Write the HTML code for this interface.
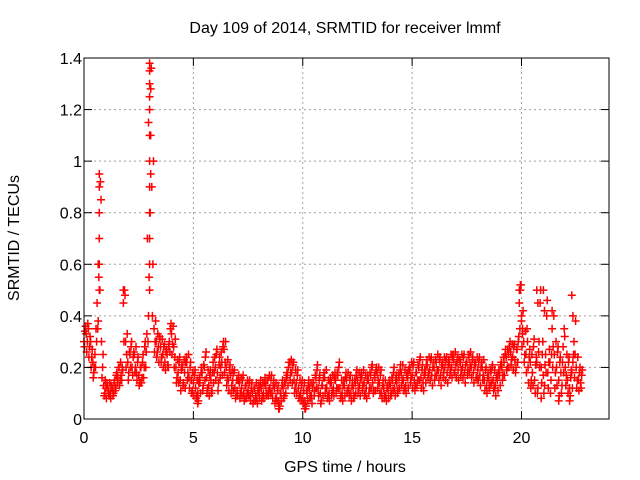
<!DOCTYPE html>
<html><head><meta charset="utf-8"><style>
body{margin:0;background:#fff}
svg{display:block;font-family:"Liberation Sans",sans-serif}
</style></head><body>
<svg id="chart" width="640" height="480" viewBox="0 0 640 480">
<rect width="640" height="480" fill="#fff"/>
<g id="grid"></g>
<g id="marks"></g>
<rect x="84" y="58" width="525" height="361" fill="none" stroke="#000" stroke-width="1"/>
<g id="axes"></g>
<text x="345" y="33" font-size="16" text-anchor="middle">Day 109 of 2014, SRMTID for receiver lmmf</text>
<text x="345" y="472" font-size="16" text-anchor="middle">GPS time / hours</text>
<text transform="translate(19,238) rotate(-90)" font-size="16" text-anchor="middle">SRMTID / TECUs</text>
</svg>
<script>
const xTicks=[0,5,10,15,20];
const yTicks=[0,0.2,0.4,0.6,0.8,1,1.2,1.4];
const yTickLabels=["0","0.2","0.4","0.6","0.8","1","1.2","1.4"];
const tStart=0, tStep=0.1;
const mainValues=[0.30,0.33,0.35,0.30,0.22,0.25,0.45,0.80,0.30,0.13,0.12,0.11,0.10,0.12,0.15,0.18,0.20,0.17,0.45,0.30,
0.22,0.25,0.20,0.25,0.18,0.17,0.20,0.25,0.30,0.70,1.30,0.90,0.35,0.30,0.28,0.28,0.25,0.22,0.25,0.30,
0.33,0.28,0.20,0.18,0.15,0.20,0.18,0.22,0.16,0.15,0.14,0.12,0.10,0.14,0.18,0.20,0.16,0.13,0.15,0.22,
0.20,0.18,0.24,0.22,0.27,0.20,0.15,0.17,0.15,0.12,0.11,0.14,0.12,0.10,0.13,0.11,0.09,0.10,0.12,0.08,
0.10,0.12,0.10,0.13,0.15,0.12,0.10,0.12,0.08,0.07,0.10,0.12,0.14,0.17,0.22,0.18,0.15,0.14,0.12,0.10,
0.08,0.07,0.10,0.12,0.09,0.14,0.16,0.12,0.10,0.13,0.16,0.12,0.10,0.14,0.12,0.15,0.17,0.12,0.10,0.13,
0.15,0.12,0.10,0.12,0.14,0.15,0.13,0.16,0.14,0.12,0.15,0.17,0.14,0.16,0.18,0.14,0.10,0.12,0.09,0.11,
0.13,0.15,0.12,0.14,0.16,0.18,0.15,0.13,0.16,0.19,0.17,0.15,0.18,0.20,0.16,0.14,0.18,0.21,0.19,0.17,
0.20,0.22,0.19,0.17,0.21,0.20,0.18,0.22,0.20,0.23,0.21,0.19,0.22,0.20,0.18,0.22,0.24,0.20,0.18,0.21,
0.19,0.17,0.20,0.15,0.13,0.16,0.18,0.15,0.13,0.15,0.17,0.20,0.22,0.24,0.25,0.26,0.24,0.23,0.27,0.45,
0.38,0.30,0.25,0.20,0.22,0.18,0.15,0.22,0.30,0.20,0.17,0.25,0.18,0.22,0.35,0.25,0.20,0.15,0.18,0.28,
0.20,0.15,0.12,0.18,0.30,0.20,0.15,0.14];
const altValues=[0.34,0.30,0.28,0.24,0.18,0.35,0.60,0.92,0.20,0.10,0.14,0.09,0.13,0.10,0.12,0.16,0.15,0.20,0.50,0.25,
0.18,0.28,0.24,0.20,0.22,0.14,0.16,0.20,0.26,0.40,1.10,0.60,0.30,0.26,0.32,0.24,0.28,0.26,0.20,0.35,
0.29,0.24,0.16,0.22,0.19,0.14,0.22,0.18,0.20,0.11,0.17,0.09,0.14,0.18,0.13,0.24,0.12,0.17,0.11,0.18,
0.25,0.14,0.20,0.28,0.22,0.16,0.19,0.13,0.18,0.09,0.15,0.10,0.15,0.08,0.10,0.14,0.12,0.07,0.09,0.11,
0.13,0.09,0.14,0.10,0.11,0.15,0.13,0.08,0.11,0.05,0.13,0.09,0.16,0.20,0.18,0.21,0.12,0.17,0.09,0.13,
0.11,0.05,0.13,0.09,0.12,0.11,0.19,0.15,0.07,0.16,0.12,0.09,0.14,0.11,0.16,0.12,0.20,0.09,0.13,0.16,
0.11,0.15,0.13,0.09,0.17,0.12,0.16,0.13,0.10,0.15,0.12,0.20,0.11,0.19,0.15,0.17,0.13,0.09,0.12,0.14,
0.10,0.18,0.15,0.11,0.19,0.15,0.12,0.17,0.19,0.16,0.21,0.13,0.15,0.23,0.19,0.17,0.21,0.18,0.23,0.20,
0.17,0.19,0.23,0.20,0.18,0.23,0.21,0.19,0.24,0.18,0.22,0.23,0.19,0.24,0.21,0.19,0.21,0.23,0.21,0.16,
0.22,0.20,0.17,0.19,0.16,0.13,0.20,0.12,0.16,0.18,0.21,0.17,0.25,0.20,0.28,0.23,0.28,0.20,0.30,0.50,
0.33,0.25,0.35,0.24,0.15,0.28,0.21,0.12,0.45,0.25,0.13,0.40,0.22,0.15,0.28,0.18,0.26,0.22,0.13,0.35,
0.17,0.22,0.16,0.22,0.25,0.15,0.18,0.17];
const lowValues=[0.28,0.26,0.24,0.20,0.16,0.20,0.35,0.50,0.16,0.09,0.08,0.10,0.08,0.09,0.11,0.14,0.13,0.15,0.30,0.20,
0.15,0.20,0.17,0.18,0.15,0.13,0.14,0.16,0.20,0.30,0.80,0.40,0.26,0.24,0.22,0.22,0.20,0.19,0.21,0.26,
0.25,0.20,0.14,0.14,0.11,0.13,0.12,0.15,0.12,0.10,0.09,0.08,0.07,0.10,0.11,0.15,0.10,0.09,0.10,0.14,
0.15,0.11,0.16,0.17,0.18,0.13,0.11,0.10,0.11,0.08,0.09,0.08,0.09,0.07,0.08,0.09,0.07,0.06,0.07,0.06,
0.08,0.07,0.08,0.09,0.09,0.10,0.08,0.06,0.07,0.04,0.07,0.08,0.10,0.13,0.15,0.14,0.10,0.10,0.08,0.07,
0.06,0.04,0.07,0.08,0.06,0.09,0.12,0.09,0.06,0.09,0.10,0.08,0.07,0.09,0.09,0.10,0.12,0.08,0.07,0.09,
0.10,0.09,0.07,0.08,0.10,0.10,0.09,0.11,0.09,0.08,0.10,0.12,0.10,0.11,0.12,0.10,0.08,0.08,0.07,0.08,
0.09,0.11,0.09,0.10,0.12,0.13,0.11,0.10,0.12,0.14,0.12,0.11,0.13,0.15,0.12,0.11,0.14,0.16,0.15,0.13,
0.15,0.17,0.15,0.13,0.16,0.15,0.14,0.17,0.16,0.18,0.16,0.15,0.17,0.16,0.14,0.17,0.18,0.16,0.14,0.16,
0.15,0.13,0.15,0.11,0.10,0.12,0.14,0.11,0.09,0.11,0.13,0.15,0.17,0.19,0.20,0.21,0.19,0.18,0.22,0.35,
0.28,0.22,0.18,0.14,0.12,0.13,0.10,0.10,0.20,0.14,0.10,0.18,0.12,0.10,0.20,0.12,0.13,0.09,0.10,0.18,
0.13,0.10,0.09,0.12,0.16,0.12,0.11,0.12];
const highValues=[0.36,0.37,0.32,0.27,0.20,0.30,0.55,0.85,0.25,0.15,0.13,0.14,0.12,0.14,0.17,0.20,0.22,0.19,0.48,0.33,
0.26,0.30,0.26,0.28,0.24,0.20,0.22,0.28,0.33,0.55,1.36,1.00,0.38,0.33,0.31,0.31,0.29,0.27,0.28,0.37,
0.36,0.31,0.23,0.24,0.21,0.23,0.24,0.25,0.22,0.18,0.19,0.15,0.16,0.20,0.21,0.26,0.19,0.19,0.18,0.24,
0.27,0.21,0.26,0.30,0.30,0.23,0.21,0.19,0.19,0.15,0.17,0.16,0.17,0.13,0.15,0.15,0.14,0.12,0.14,0.13,
0.15,0.14,0.16,0.15,0.17,0.17,0.15,0.14,0.13,0.10,0.15,0.14,0.18,0.22,0.23,0.22,0.19,0.19,0.15,0.15,
0.14,0.11,0.15,0.14,0.14,0.17,0.21,0.17,0.13,0.18,0.19,0.15,0.16,0.17,0.18,0.18,0.22,0.15,0.15,0.18,
0.18,0.17,0.15,0.15,0.19,0.18,0.18,0.19,0.17,0.17,0.18,0.21,0.17,0.20,0.20,0.19,0.15,0.15,0.13,0.15,
0.16,0.20,0.17,0.17,0.21,0.21,0.19,0.18,0.20,0.22,0.22,0.18,0.21,0.24,0.21,0.19,0.23,0.24,0.24,0.22,
0.23,0.25,0.24,0.22,0.24,0.24,0.23,0.25,0.25,0.26,0.24,0.23,0.25,0.25,0.22,0.25,0.26,0.24,0.22,0.24,
0.24,0.22,0.23,0.20,0.18,0.19,0.21,0.19,0.17,0.19,0.22,0.24,0.27,0.27,0.30,0.29,0.29,0.27,0.32,0.52,
0.42,0.34,0.30,0.27,0.25,0.31,0.24,0.26,0.50,0.30,0.21,0.46,0.27,0.25,0.40,0.30,0.28,0.24,0.22,0.32,
0.25,0.24,0.19,0.25,0.38,0.24,0.20,0.19];
const extraTimes=[3.0,3.0,3.0,3.0,3.0,3.0,3.0,3.0,3.0,3.0,3.0,3.0,0.7,0.7,0.7,0.7,0.7,0.7,1.8,1.8,19.9,19.95,20.0,20.05,20.7,20.75,21.0,21.05,21.4,22.3,22.35,5.2,8.9,10.1,20.9,21.7,22.2,2.95,3.05,3.05,0.65];
const extraValues=[0.5,0.6,0.7,0.8,0.9,1.0,1.1,1.2,1.25,1.3,1.35,1.38,0.5,0.6,0.7,0.8,0.9,0.95,0.45,0.5,0.5,0.52,0.4,0.35,0.5,0.45,0.5,0.42,0.42,0.48,0.4,0.06,0.04,0.04,0.08,0.07,0.07,1.15,1.28,0.95,0.38];

const X0=84,X1=609,Y0=419,Y1=58,XMAX=24,YMAX=1.4;
const xs=v=>X0+(X1-X0)*v/XMAX;
const ys=v=>Y0-(Y0-Y1)*v/YMAX;
const NS="http://www.w3.org/2000/svg";
const grid=document.getElementById('grid'),axes=document.getElementById('axes'),marks=document.getElementById('marks');
function mk(tag,attrs,parent){const e=document.createElementNS(NS,tag);for(const k in attrs)e.setAttribute(k,attrs[k]);parent.appendChild(e);return e;}
yTicks.forEach((v,i)=>{const y=ys(v);
 if(v>0&&v<YMAX){const g=mk('line',{x1:X0,x2:X1,y1:y,y2:y,stroke:'#a0a0a0','stroke-dasharray':'2,3'},grid);
 
 }
 mk('line',{x1:X0,x2:X0+8,y1:y,y2:y,stroke:'#000'},axes);
 mk('line',{x1:X1,x2:X1-8,y1:y,y2:y,stroke:'#000'},axes);
 const t=mk('text',{x:X0-2,y:y+6,'font-size':16,'text-anchor':'end'},axes);t.textContent=yTickLabels[i];
 
 
});
xTicks.forEach(v=>{const x=xs(v);
 if(v>0){const g=mk('line',{x1:x,x2:x,y1:Y0,y2:Y1,stroke:'#a0a0a0','stroke-dasharray':'2,3'},grid);
 
 }
 mk('line',{x1:x,x2:x,y1:Y0,y2:Y0-8,stroke:'#000'},axes);
 mk('line',{x1:x,x2:x,y1:Y1,y2:Y1+8,stroke:'#000'},axes);
 const t=mk('text',{x:x,y:Y0+24,'font-size':16,'text-anchor':'middle'},axes);t.textContent=String(v);
 
 
});
let d='';
function plus(t,v){const x=xs(t),y=ys(v);d+=`M${(x-4).toFixed(1)} ${y.toFixed(1)}h8M${x.toFixed(1)} ${(y-4).toFixed(1)}v8`;}
mainValues.forEach((v,i)=>plus(tStart+i*tStep,v));
altValues.forEach((v,i)=>plus(tStart+i*tStep+0.05,v));
lowValues.forEach((v,i)=>plus(tStart+i*tStep+0.025,v));
highValues.forEach((v,i)=>plus(tStart+i*tStep+0.075,v));
extraValues.forEach((v,i)=>plus(extraTimes[i],v));
const p=mk('path',{d:d,stroke:'#ff0000','stroke-width':1.5,fill:'none'},marks);


</script>
</body></html>
